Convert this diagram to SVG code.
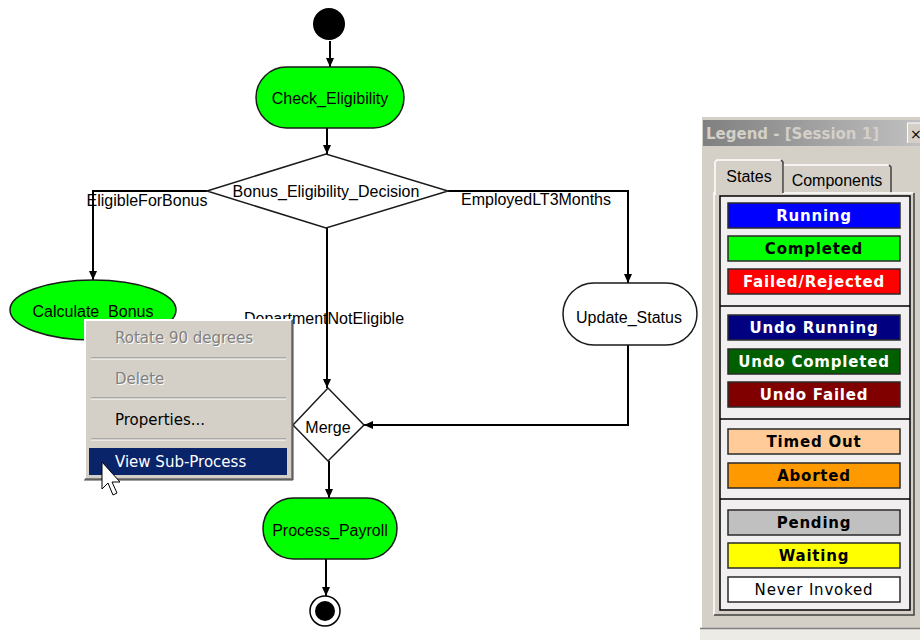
<svg xmlns="http://www.w3.org/2000/svg" width="920" height="640" viewBox="0 0 920 640">
<defs>
<marker id="arr" markerUnits="userSpaceOnUse" markerWidth="10" markerHeight="10" refX="9" refY="5" orient="auto">
<path d="M0,1 L9,5 L0,9 z" fill="#000"/>
</marker>
<linearGradient id="tb" x1="0" y1="0" x2="1" y2="0">
<stop offset="0" stop-color="#808080"/>
<stop offset="1" stop-color="#c0c0c0"/>
</linearGradient>
</defs>
<style>
.lbl{font-family:"Liberation Sans",Arial,sans-serif;font-size:16px;fill:#000}
.node{stroke:#1a1a1a;stroke-width:1.5}
.green{fill:#00ff00}
.white{fill:#fff}
.conn{fill:none;stroke:#000;stroke-width:2;marker-end:url(#arr)}
.menu{font-family:"DejaVu Sans",Tahoma,sans-serif;font-size:15px}
.leg{font-family:"DejaVu Sans",Verdana,sans-serif;font-size:15px;font-weight:bold;letter-spacing:0.8px}
.legn{font-family:"DejaVu Sans",Verdana,sans-serif;font-size:15px;font-weight:normal;letter-spacing:0.8px}
.box{stroke:#2a2a2a;stroke-width:1.5}
</style>
<rect width="920" height="640" fill="#fff"/>

<g id="connectors">
<path class="conn" d="M330,41 V67"/>
<path class="conn" d="M327,128 V154"/>
<path class="conn" d="M207,191 H93 V280"/>
<path class="conn" d="M448,191 H628 V283"/>
<path class="conn" d="M327,228 V388"/>
<path class="conn" d="M628,345 V425 H364"/>
<path class="conn" d="M329,461 V498"/>
<path class="conn" d="M326,559 V596"/>
<text class="lbl" x="147" y="206" text-anchor="middle">EligibleForBonus</text>
<text class="lbl" x="536" y="205" text-anchor="middle">EmployedLT3Months</text>
<text class="lbl" x="324" y="324" text-anchor="middle">DepartmentNotEligible</text>
</g>

<g id="start"><circle cx="329" cy="24" r="16" fill="#000"/></g>

<g id="check_eligibility">
<rect class="node green" x="256" y="67" width="148" height="61" rx="30.5"/>
<text class="lbl" x="330" y="104" text-anchor="middle">Check_Eligibility</text>
</g>

<g id="bonus_decision">
<polygon class="node white" points="207,191 326,154 448,191 326,228"/>
<text class="lbl" x="326" y="197" text-anchor="middle">Bonus_Eligibility_Decision</text>
</g>

<g id="calculate_bonus">
<ellipse class="node green" cx="93" cy="310" rx="83" ry="30"/>
<text class="lbl" x="93" y="317" text-anchor="middle">Calculate_Bonus</text>
</g>

<g id="update_status">
<rect class="node white" x="563" y="283" width="134" height="62" rx="31"/>
<text class="lbl" x="629" y="323" text-anchor="middle">Update_Status</text>
</g>

<g id="merge">
<polygon class="node white" points="293,425 328,388 364,425 328,461"/>
<text class="lbl" x="328" y="433" text-anchor="middle">Merge</text>
</g>

<g id="process_payroll">
<rect class="node green" x="263" y="498" width="134" height="61" rx="30.5"/>
<text class="lbl" x="330" y="536" text-anchor="middle">Process_Payroll</text>
</g>

<g id="end">
<circle cx="325" cy="611" r="15" fill="#fff" stroke="#000" stroke-width="1.5"/>
<circle cx="325" cy="611" r="10" fill="#000"/>
</g>

<g id="context_menu">
<rect x="85" y="320" width="207" height="159" fill="#d4d0c8"/>
<path d="M85,479 V320 H292" fill="none" stroke="#fff" stroke-width="2"/>
<path d="M85,479 H292 V320" fill="none" stroke="#808080" stroke-width="2"/>
<path d="M84,480 H293 V319" fill="none" stroke="#404040" stroke-width="1"/>
<text class="menu" x="116" y="344" fill="#fff">Rotate 90 degrees</text>
<text class="menu" x="115" y="343" fill="#808080">Rotate 90 degrees</text>
<line x1="91" y1="358" x2="286" y2="358" stroke="#808080" stroke-width="1"/>
<line x1="91" y1="359" x2="286" y2="359" stroke="#fff" stroke-width="1"/>
<text class="menu" x="116" y="385" fill="#fff">Delete</text>
<text class="menu" x="115" y="384" fill="#808080">Delete</text>
<line x1="91" y1="398" x2="286" y2="398" stroke="#808080" stroke-width="1"/>
<line x1="91" y1="399" x2="286" y2="399" stroke="#fff" stroke-width="1"/>
<text class="menu" x="115" y="425" fill="#000">Properties...</text>
<line x1="91" y1="439" x2="286" y2="439" stroke="#808080" stroke-width="1"/>
<line x1="91" y1="440" x2="286" y2="440" stroke="#fff" stroke-width="1"/>
<rect x="89" y="448" width="198" height="27" fill="#0a246a"/>
<text class="menu" x="115" y="467" fill="#fff">View Sub-Process</text>
</g>

<g id="cursor">
<polygon points="102,462 102,489 108,483 113,495 117,493 112,482 120,482" fill="#fff" stroke="#000" stroke-width="1"/>
</g>

<g id="legend">
<rect x="700" y="117" width="220" height="512" fill="#d4d0c8"/>
<rect x="700" y="629" width="220" height="11" fill="#ecebe6"/>
<line x1="701" y1="117" x2="701" y2="629" stroke="#fff" stroke-width="2"/>
<line x1="700" y1="628.5" x2="920" y2="628.5" stroke="#808080" stroke-width="1.5"/>
<rect x="703" y="120" width="217" height="26" fill="url(#tb)"/>
<text x="706" y="139" font-family="DejaVu Sans,Tahoma,sans-serif" font-size="15" font-weight="bold" fill="#d4d0c8">Legend - [Session 1]</text>
<rect x="907" y="123" width="14" height="20" fill="#d4d0c8"/>
<line x1="907" y1="123" x2="920" y2="123" stroke="#fff"/>
<line x1="907.5" y1="123" x2="907.5" y2="143" stroke="#fff"/>
<text x="910" y="139" font-family="DejaVu Sans,sans-serif" font-size="14" fill="#000">×</text>

<path d="M783,193 V165 H889 L891,167 V193" fill="#d4d0c8" stroke="none"/>
<path d="M783,193 V165 H889" fill="none" stroke="#fff" stroke-width="1.5"/>
<path d="M889,165 L891,167 V193" fill="none" stroke="#404040" stroke-width="1.5"/>
<text x="837" y="186" text-anchor="middle" font-family="Liberation Sans,Arial,sans-serif" font-size="16" fill="#000">Components</text>

<rect x="714" y="193" width="200" height="422" fill="#d4d0c8"/>
<path d="M714,615 V193 H913" fill="none" stroke="#fff" stroke-width="1.5"/>
<path d="M714,615 H914 V193" fill="none" stroke="#404040" stroke-width="1.5"/>
<path d="M715,195 V162 L717,160 H781 L783,162 V195" fill="#d4d0c8"/>
<path d="M715,195 V162 L717,160 H781" fill="none" stroke="#fff" stroke-width="1.5"/>
<path d="M781,160 L783,162 V193" fill="none" stroke="#404040" stroke-width="1.5"/>
<text x="749" y="182" text-anchor="middle" font-family="Liberation Sans,Arial,sans-serif" font-size="16" fill="#000">States</text>

<rect x="720" y="196" width="190" height="414" fill="#f1efef" stroke="#000" stroke-width="1.5"/>
<line x1="720" y1="306" x2="910" y2="306" stroke="#000" stroke-width="1.5"/>
<line x1="720" y1="419" x2="910" y2="419" stroke="#000" stroke-width="1.5"/>
<line x1="720" y1="499" x2="910" y2="499" stroke="#000" stroke-width="1.5"/>

<rect class="box" x="728" y="203" width="172" height="25" fill="#0000ff"/>
<text class="leg" x="814" y="221" text-anchor="middle" fill="#fff">Running</text>
<rect class="box" x="728" y="236" width="172" height="25" fill="#00ff00"/>
<text class="leg" x="814" y="254" text-anchor="middle" fill="#000">Completed</text>
<rect class="box" x="728" y="269" width="172" height="25" fill="#ff0000"/>
<text class="leg" x="814" y="287" text-anchor="middle" fill="#fff">Failed/Rejected</text>

<rect class="box" x="728" y="315" width="172" height="25" fill="#000080"/>
<text class="leg" x="814" y="333" text-anchor="middle" fill="#fff">Undo Running</text>
<rect class="box" x="728" y="349" width="172" height="25" fill="#006000"/>
<text class="leg" x="814" y="367" text-anchor="middle" fill="#fff">Undo Completed</text>
<rect class="box" x="728" y="382" width="172" height="25" fill="#800000"/>
<text class="leg" x="814" y="400" text-anchor="middle" fill="#fff">Undo Failed</text>

<rect class="box" x="728" y="429" width="172" height="25" fill="#ffcc99"/>
<text class="leg" x="814" y="447" text-anchor="middle" fill="#000">Timed Out</text>
<rect class="box" x="728" y="463" width="172" height="25" fill="#ff9900"/>
<text class="leg" x="814" y="481" text-anchor="middle" fill="#000">Aborted</text>

<rect class="box" x="728" y="510" width="172" height="25" fill="#c0c0c0"/>
<text class="leg" x="814" y="528" text-anchor="middle" fill="#000">Pending</text>
<rect class="box" x="728" y="543" width="172" height="25" fill="#ffff00"/>
<text class="leg" x="814" y="561" text-anchor="middle" fill="#000">Waiting</text>
<rect class="box" x="728" y="577" width="172" height="25" fill="#fff"/>
<text class="legn" x="814" y="595" text-anchor="middle" fill="#000">Never Invoked</text>
</g>
</svg>
